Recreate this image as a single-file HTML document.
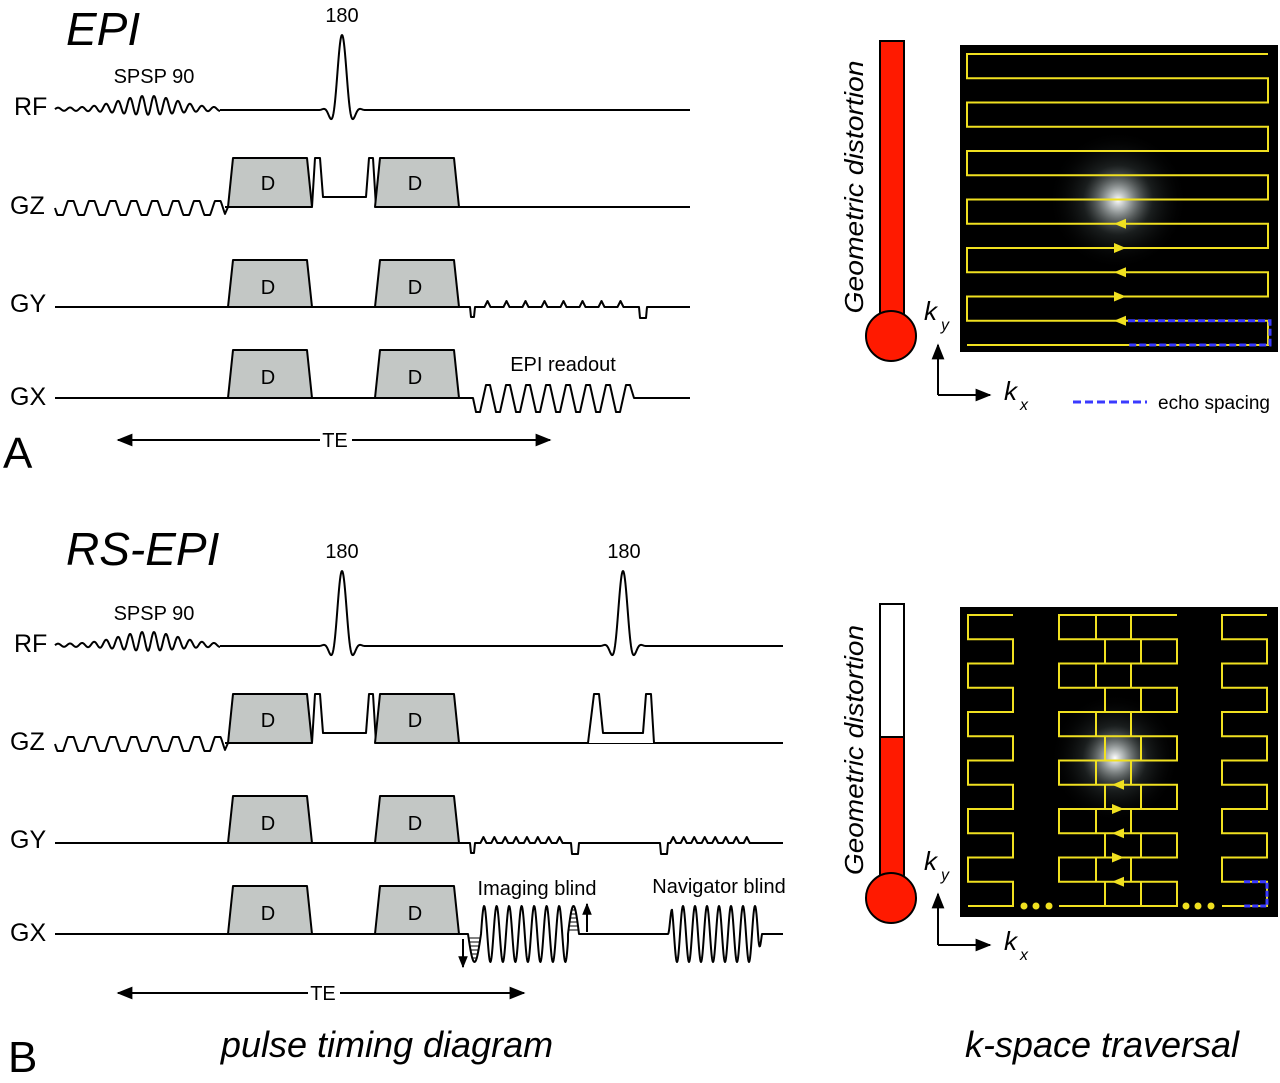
<!DOCTYPE html>
<html><head><meta charset="utf-8"><style>
html,body{margin:0;padding:0;background:#fff}
svg{display:block}
text{font-family:"Liberation Sans",sans-serif;fill:#000}
</style></head><body>
<svg id="s" width="1280" height="1083" viewBox="0 0 1280 1083" xmlns="http://www.w3.org/2000/svg">
<defs>
<radialGradient id="glow"><stop offset="0" stop-color="#fff" stop-opacity="1"/><stop offset="0.15" stop-color="#cfd6d6" stop-opacity="0.8"/><stop offset="0.5" stop-color="#4a5555" stop-opacity="0.35"/><stop offset="1" stop-color="#000" stop-opacity="0"/></radialGradient>
<marker id="ah" viewBox="0 0 10 10" refX="9" refY="5" markerWidth="8" markerHeight="8" orient="auto-start-reverse"><path d="M0,1 L10,5 L0,9 z" fill="#000"/></marker>
<marker id="ah2" viewBox="0 0 10 10" refX="9" refY="5" markerWidth="6" markerHeight="6" orient="auto-start-reverse"><path d="M0,1 L10,5 L0,9 z" fill="#000"/></marker>
</defs>
<g id="g"></g>
<text x="66" y="45" font-size="46" font-style="italic">EPI</text>
<text x="66" y="565" font-size="46" font-style="italic">RS-EPI</text>
<text x="3" y="468" font-size="44">A</text>
<text x="8" y="1072" font-size="44">B</text>
<g font-size="25">
<text x="14" y="115">RF</text><text x="10" y="214">GZ</text><text x="10" y="312">GY</text><text x="10" y="405">GX</text>
<text x="14" y="652">RF</text><text x="10" y="750">GZ</text><text x="10" y="848">GY</text><text x="10" y="941">GX</text>
</g>
<g font-size="20" text-anchor="middle">
<text x="154" y="83">SPSP 90</text><text x="342" y="22">180</text>
<text x="154" y="620">SPSP 90</text><text x="342" y="558">180</text><text x="624" y="558">180</text>
<text x="563" y="371">EPI readout</text>
<text x="537" y="895">Imaging blind</text><text x="719" y="893">Navigator blind</text>
<text x="335" y="447">TE</text><text x="323" y="1000">TE</text>
<text x="268" y="190">D</text><text x="415" y="190">D</text>
<text x="268" y="294">D</text><text x="415" y="294">D</text>
<text x="268" y="384">D</text><text x="415" y="384">D</text>
<text x="268" y="727">D</text><text x="415" y="727">D</text>
<text x="268" y="830">D</text><text x="415" y="830">D</text>
<text x="268" y="920">D</text><text x="415" y="920">D</text>
</g>
<text x="387" y="1057" font-size="36" font-style="italic" text-anchor="middle">pulse timing diagram</text>
<text x="1102" y="1057" font-size="36" font-style="italic" text-anchor="middle">k-space traversal</text>
<text transform="translate(863,187) rotate(-90)" font-size="26" font-style="italic" text-anchor="middle" textLength="253" lengthAdjust="spacingAndGlyphs">Geometric distortion</text>
<text transform="translate(863,750) rotate(-90)" font-size="26" font-style="italic" text-anchor="middle" textLength="250" lengthAdjust="spacingAndGlyphs">Geometric distortion</text>
<g font-size="26" font-style="italic">
<text x="924" y="320">k</text><text x="941" y="330" font-size="16">y</text>
<text x="1004" y="400">k</text><text x="1020" y="410" font-size="16">x</text>
<text x="924" y="870">k</text><text x="941" y="880" font-size="16">y</text>
<text x="1004" y="950">k</text><text x="1020" y="960" font-size="16">x</text>
</g>
<text x="1158" y="409" font-size="19">echo spacing</text>
</svg>
<script>
var g=document.getElementById('g'),NS='http://www.w3.org/2000/svg';
function el(t,a){var e=document.createElementNS(NS,t);for(var k in a)e.setAttribute(k,a[k]);g.appendChild(e);return e;}
function P(d,o){o=o||{};el('path',Object.assign({d:d,fill:'none',stroke:'#000','stroke-width':2,'stroke-linejoin':'round'},o));}
function fn(x1,x2,f,step){step=step||0.5;var s='M'+x1+','+f(x1).toFixed(2);var x;for(x=x1+step;x<x2;x+=step)s+=' L'+x.toFixed(2)+','+f(x).toFixed(2);s+=' L'+x2+','+f(x2).toFixed(2);return s;}
function sinc(u){return u==0?1:Math.sin(Math.PI*u)/(Math.PI*u);}
function rfp180(c,base){return fn(c-24,c+24,function(x){var u=(x-c)/8;var w=0.5+0.5*Math.cos(Math.PI*(x-c)/24);return base-75*sinc(u)*w;});}
function tr(x1,x2,top,base){P('M'+x1+','+base+' L'+(x1+5)+','+top+' L'+(x2-5)+','+top+' L'+x2+','+base+' Z',{fill:'#c3c7c5'});}
function panel(o,full){
 var rf=110+o,gz=207+o,gy=307+o,gx=398+o,end=full?690:783;
 P(fn(55,220,function(x){var env=1.5+8*Math.exp(-Math.pow((x-148)/40,2));return rf-env*Math.sin(2*Math.PI*(x-55)/12)-env*0.5;}));
 P('M220,'+rf+' L318,'+rf+' '+rfp180(342,rf).replace('M','L')+' L'+(full?end:599)+','+rf);
 if(!full){P('M599,'+rf+' '+rfp180(623,rf).replace('M','L')+' L'+end+','+rf);}
 P(fn(55,225,function(x){var v=Math.sin(2*Math.PI*(x-55)/21);return gz+1+7*Math.max(-1,Math.min(1,v*1.5));})+' L228,'+gz);
 P('M225,'+gz+' L228,'+gz+' M312,'+gz+' L315,'+(gz-49)+' L320,'+(gz-49)+' L323,'+(gz-10)+' L366,'+(gz-10)+' L369,'+(gz-49)+' L373,'+(gz-49)+' L376,'+gz+' M459,'+gz+' L'+end+','+gz);
 tr(228,312,gz-49,gz);tr(375,459,gz-49,gz);
 if(!full){P('M588,'+gz+' L594,'+(gz-49)+' L599,'+(gz-49)+' L603,'+(gz-10)+' L643,'+(gz-10)+' L646,'+(gz-49)+' L651,'+(gz-49)+' L654,'+gz,{fill:'#fff'});}
 P('M55,'+gy+' L228,'+gy+' M312,'+gy+' L375,'+gy);
 tr(228,312,gy-47,gy);tr(375,459,gy-47,gy);
 var s='M459,'+gy+' L470,'+gy+' L471,'+(gy+10)+' L474,'+(gy+10)+' L475,'+gy;
 function blips(a,b,n){var st=(b-a)/n;for(var i=0;i<n;i++){var c=a+st*(i+0.5);s+=' L'+(c-3)+','+gy+' L'+c+','+(gy-6)+' L'+(c+3)+','+gy;}}
 function dip(c){s+=' L'+(c-4)+','+gy+' L'+(c-3)+','+(gy+11)+' L'+(c+3)+','+(gy+11)+' L'+(c+4)+','+gy;}
 if(full){blips(478,630,8);dip(643);s+=' L'+end+','+gy;}
 else{blips(478,565,8);dip(575);dip(664);blips(668,752,8);s+=' L'+end+','+gy;}
 P(s);
 P('M55,'+gx+' L228,'+gx+' M312,'+gx+' L375,'+gx);
 tr(228,312,gx-48,gx);tr(375,459,gx-48,gx);
 if(full){
  var t='M459,'+gx+' L473,'+gx;var x=473,per=20;
  for(var i=0;i<8;i++){t+=' L'+(x+3)+','+(gx+14)+' L'+(x+7)+','+(gx+14)+' L'+(x+13)+','+(gx-13)+' L'+(x+17)+','+(gx-13);x+=per;}
  t+=' L'+(x+1)+','+gx+' L'+end+','+gx;P(t);
 }else{
  P('M459,'+gx+' L468,'+gx+' '+fn(468,481,function(x){return gx+28*Math.sin(Math.PI*(x-468)/13);}).replace('M','L')
   +' '+fn(481,568,function(x){return gx-28*Math.sin(2*Math.PI*(x-481)/12.5);}).replace('M','L')
   +' '+fn(568,579,function(x){return gx-28*Math.sin(Math.PI*(x-568)/11);}).replace('M','L')
   +' L668,'+gx+' '+fn(668,762,function(x){return gx-28*Math.sin(2*Math.PI*(x-668)/12)*Math.min(1,(x-668)/4,(762-x)/4);}).replace('M','L')+' L'+end+','+gx);
  for(var y=gx+4;y<gx+28;y+=4){var w=Math.sqrt(Math.max(0,1-Math.pow((y-gx)/28,2)))*5;P('M'+(474.5-w)+','+y+' L'+(474.5+w)+','+y,{'stroke-width':1});}
  for(var y=gx-4;y>gx-28;y-=4){var w=Math.sqrt(Math.max(0,1-Math.pow((gx-y)/28,2)))*4.5;P('M'+(573.5-w)+','+y+' L'+(573.5+w)+','+y,{'stroke-width':1});}
  P('M463,'+(gx+5)+' L463,'+(gx+33),{'marker-end':'url(#ah2)'});
  P('M587,'+(gx-2)+' L587,'+(gx-30),{'marker-end':'url(#ah2)'});
 }
}
panel(0,true);panel(536,false);
el('path',{d:'M320,440 L118,440',stroke:'#000','stroke-width':2,'marker-end':'url(#ah)'});
el('path',{d:'M352,440 L550,440',stroke:'#000','stroke-width':2,'marker-end':'url(#ah)'});
el('path',{d:'M308,993 L118,993',stroke:'#000','stroke-width':2,'marker-end':'url(#ah)'});
el('path',{d:'M340,993 L524,993',stroke:'#000','stroke-width':2,'marker-end':'url(#ah)'});
el('rect',{x:880,y:41,width:24,height:290,fill:'#ff1a00',stroke:'#000','stroke-width':2});
el('circle',{cx:891,cy:336,r:25,fill:'#ff1a00',stroke:'#000','stroke-width':2});
el('rect',{x:884,y:320,width:16,height:20,fill:'#ff1a00'});
el('rect',{x:880,y:604,width:24,height:290,fill:'#fff',stroke:'#000','stroke-width':2});
el('rect',{x:880,y:737,width:24,height:157,fill:'#ff1a00',stroke:'#000','stroke-width':2});
el('circle',{cx:891,cy:898,r:25,fill:'#ff1a00',stroke:'#000','stroke-width':2});
el('rect',{x:884,y:880,width:16,height:20,fill:'#ff1a00'});
el('path',{d:'M938,395 L938,345',stroke:'#000','stroke-width':2,'marker-end':'url(#ah)'});
el('path',{d:'M938,395 L990,395',stroke:'#000','stroke-width':2,'marker-end':'url(#ah)'});
el('path',{d:'M938,945 L938,894',stroke:'#000','stroke-width':2,'marker-end':'url(#ah)'});
el('path',{d:'M938,945 L990,945',stroke:'#000','stroke-width':2,'marker-end':'url(#ah)'});
el('path',{d:'M1073,402 L1147,402',stroke:'#3a3aff','stroke-width':3,'stroke-dasharray':'8,4'});
el('rect',{x:960,y:45,width:318,height:307,fill:'#000'});
el('circle',{cx:1118,cy:200,r:70,fill:'url(#glow)'});
var Y='#f0e020',ys=[];for(var i=0;i<13;i++)ys.push(54+i*24.25);
var d='M1268,'+ys[0]+' L967,'+ys[0];
for(var i=1;i<13;i++){var xa=(i%2)?967:1268,xb=(i%2)?1268:967;d+=' L'+xa+','+ys[i]+' L'+xb+','+ys[i];}
el('path',{d:d,fill:'none',stroke:Y,'stroke-width':2});
el('path',{d:'M1128,'+ys[11]+' L1270,'+ys[11]+' L1270,'+ys[12]+' L1128,'+ys[12],fill:'none',stroke:'#3a3aff','stroke-width':3,'stroke-dasharray':'7,3'});
function arr(x,y,dir){var a=dir<0?'M'+(x-6)+','+y+' L'+(x+6)+','+(y-5)+' L'+(x+6)+','+(y+5)+'Z':'M'+(x+6)+','+y+' L'+(x-6)+','+(y-5)+' L'+(x-6)+','+(y+5)+'Z';el('path',{d:a,fill:Y});}
arr(1120,ys[11],-1);arr(1120,ys[10],1);arr(1120,ys[9],-1);arr(1120,ys[8],1);arr(1120,ys[7],-1);
el('rect',{x:960,y:607,width:318,height:310,fill:'#000'});
el('circle',{cx:1115,cy:758,r:65,fill:'url(#glow)'});
var yb=[];for(var i=0;i<13;i++)yb.push(615+i*24.25);
function col(l,r){var d='M'+r+','+yb[0]+' L'+l+','+yb[0];for(var i=1;i<13;i++){var xa=(i%2)?l:r,xb=(i%2)?r:l;d+=' L'+xa+','+yb[i]+' L'+xb+','+yb[i];}el('path',{d:d,fill:'none',stroke:Y,'stroke-width':2});}
col(968,1013);col(1059,1177);col(1222,1267);
var bd='';for(var i=0;i<12;i++){var v=(i%2)?[1105,1141]:[1096,1131];v.forEach(function(x){bd+='M'+x+','+yb[i]+' L'+x+','+yb[i+1]+' ';});}
el('path',{d:bd,fill:'none',stroke:Y,'stroke-width':2});
el('path',{d:'M1244,'+yb[11]+' L1267,'+yb[11]+' L1267,'+yb[12]+' L1244,'+yb[12],fill:'none',stroke:'#3a3aff','stroke-width':3,'stroke-dasharray':'6,2'});
[1024,1036,1049,1186,1198,1211].forEach(function(x){el('circle',{cx:x,cy:906,r:3.5,fill:Y});});
arr(1118,yb[11],-1);arr(1118,yb[10],1);arr(1118,yb[9],-1);arr(1118,yb[8],1);arr(1118,yb[7],-1);
</script>
</body></html>
